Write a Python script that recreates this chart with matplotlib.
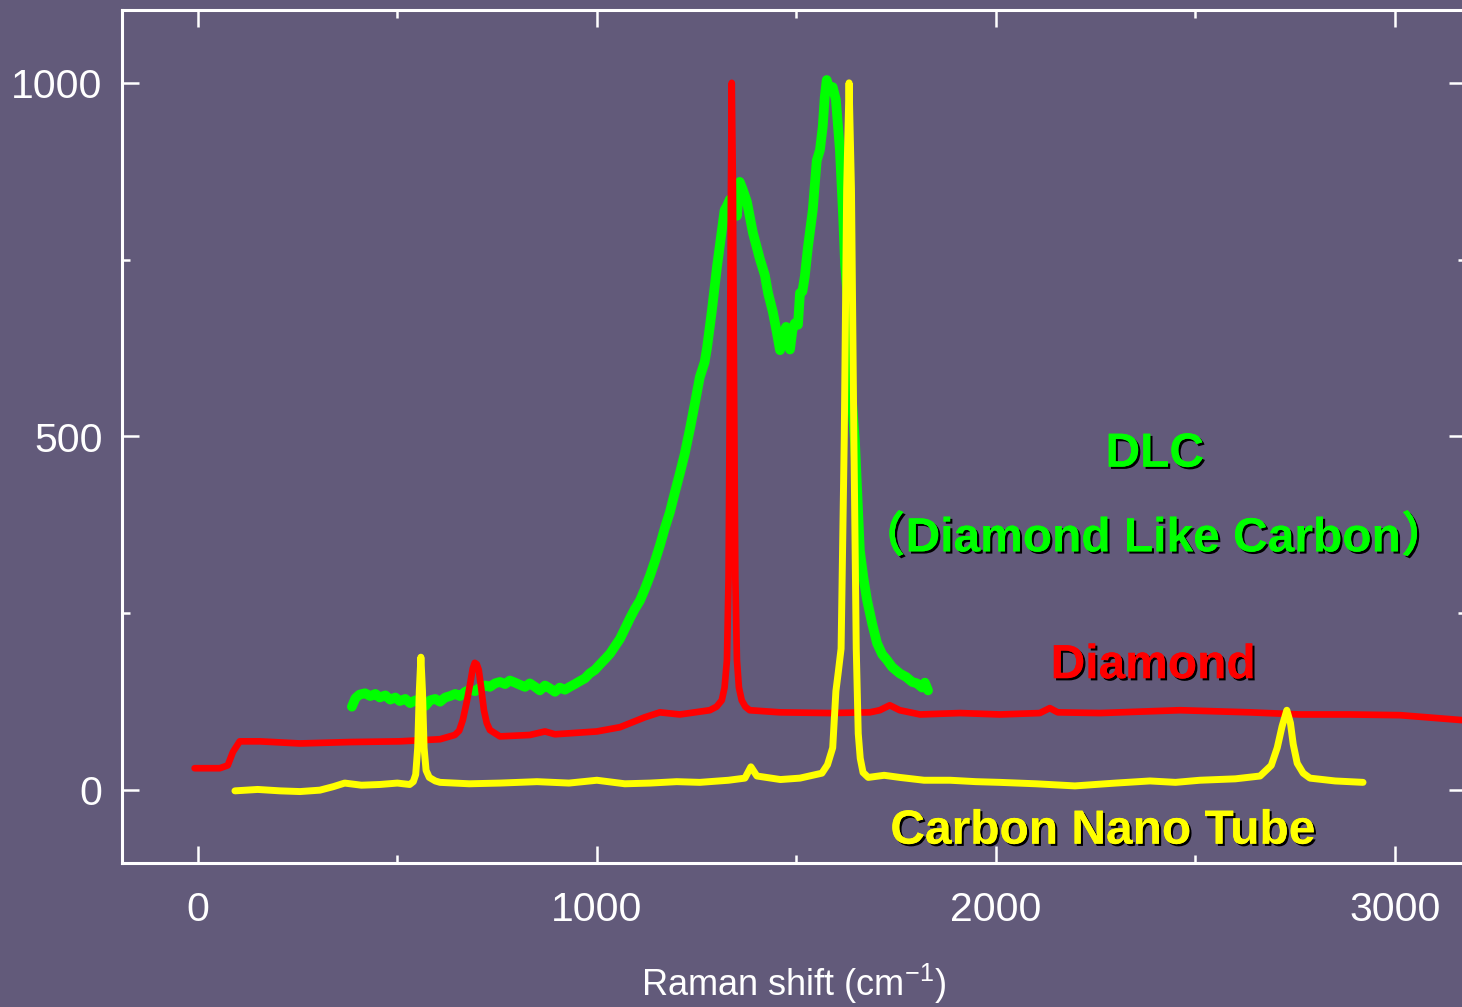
import matplotlib
matplotlib.use("Agg")
import matplotlib.pyplot as plt
import matplotlib.patheffects as pe
from matplotlib.ticker import MultipleLocator

# Raman spectra of three carbon forms (shift in cm-1, intensity in counts)
diamond_x = [-8, 55, 75, 88, 105, 155, 256, 381, 506, 607, 644, 655, 664, 674, 682,
             689, 694, 699, 704, 710, 717, 724, 732, 757, 832, 870, 895, 1000, 1058,
             1120, 1158, 1208, 1283, 1300, 1313, 1320, 1326, 1330, 1333, 1336, 1338,
             1341, 1344, 1347, 1351, 1356, 1363, 1372, 1383, 1459, 1584, 1684, 1709,
             1734, 1759, 1810, 1910, 2010, 2110, 2135, 2155, 2261, 2461, 2637, 2762,
             2887, 3013, 3168]
diamond_y = [31, 31, 35, 54, 69, 69, 66, 68, 69, 72, 78, 84, 99, 125, 149,
             172, 180, 178, 170, 145, 113, 95, 85, 76, 78, 83, 79, 83, 89,
             103, 110, 107, 113, 118, 127, 145, 184, 300, 552, 850, 1000,
             850, 552, 300, 184, 145, 127, 118, 113, 110, 109, 110, 113,
             120, 113, 107, 109, 107, 109, 116, 110, 109, 113, 110, 107,
             107, 106, 99]

cnt_x = [93, 150, 206, 256, 306, 340, 368, 410, 456, 500, 531, 540, 546, 551, 555,
         559, 563, 567, 572, 580, 595, 607, 680, 757, 850, 930, 1000, 1070, 1133,
         1200, 1258, 1330, 1371, 1386, 1401, 1460, 1509, 1564, 1578, 1591, 1599,
         1605, 1612, 1620, 1626, 1632, 1638, 1644, 1650, 1655, 1660, 1667, 1680,
         1720, 1759, 1820, 1885, 1950, 2010, 2100, 2198, 2300, 2386, 2450, 2511,
         2600, 2662, 2690, 2705, 2717, 2729, 2738, 2745, 2755, 2770, 2787, 2850,
         2920]
cnt_y = [-1, 1, -1, -2, 0, 5, 10, 7, 8, 10, 8, 12, 22, 60, 140,
         188, 140, 60, 28, 18, 13, 11, 9, 10, 12, 10, 14, 9, 10,
         12, 11, 14, 17, 33, 20, 15, 17, 24, 36, 60, 140,
         167, 200, 500, 850, 1000, 850, 500, 200, 80, 45, 25, 18,
         21, 18, 14, 14, 12, 11, 9, 6, 10, 13, 11, 14,
         16, 20, 35, 60, 90, 113, 95, 65, 38, 24, 17, 13,
         11]

dlc_x = [386, 395, 405, 419, 432, 445, 456, 470, 482, 495, 506, 520, 532, 545, 556,
         570, 582, 595, 607, 620, 632, 645, 657, 670, 682, 695, 707, 720, 732, 745,
         757, 770, 782, 795, 807, 820, 832, 845, 857, 870, 882, 895, 907, 920, 932,
         945, 957, 970, 982, 995, 1008, 1020, 1033, 1045, 1058, 1070, 1083, 1095,
         1108, 1120, 1133, 1145, 1158, 1170, 1183, 1195, 1208, 1220, 1233, 1245,
         1258, 1270, 1276, 1288, 1301, 1313, 1320, 1326, 1333, 1340, 1346, 1351,
         1358, 1365, 1376, 1391, 1409, 1421, 1429, 1441, 1450, 1459, 1466, 1474,
         1484, 1490, 1496, 1504, 1509, 1515, 1521, 1529, 1541, 1551, 1559, 1566,
         1571, 1576, 1583, 1591, 1599, 1609, 1617, 1622, 1629, 1639, 1647, 1659,
         1668, 1677, 1690, 1702, 1715, 1727, 1740, 1759, 1775, 1790, 1802, 1815,
         1822, 1830]
dlc_y = [118, 130, 135, 137, 133, 136, 131, 134, 128, 131, 126, 129, 123, 127, 126,
         119, 127, 129, 125, 131, 133, 136, 133, 139, 142, 140, 145, 148, 146, 151,
         153, 150, 155, 152, 149, 146, 151, 146, 141, 148, 144, 139, 145, 142, 146,
         150, 154, 158, 165, 170, 178, 185, 193, 203, 214, 228, 243, 256,
         268, 284, 303, 323, 346, 370, 393, 420, 448, 475, 510, 545,
         584, 605, 625, 677, 740, 790, 820, 826, 835, 812, 835, 812,
         860, 850, 832, 788, 750, 728, 703, 676, 650, 622, 640, 655,
         623, 650, 660, 658, 703, 705, 726, 768, 820, 890, 905, 938,
         980, 1004, 990, 994, 976, 905, 813, 743, 693, 552, 491, 339,
         300, 269, 235, 208, 192, 184, 174, 165, 160, 153, 151, 145,
         152, 141]

bg = "#625a7a"
plt.rcParams["font.family"] = ["Liberation Sans", "Noto Sans CJK JP", "DejaVu Sans"]
plt.rcParams["mathtext.fontset"] = "custom"
plt.rcParams["mathtext.rm"] = "Liberation Sans"

fig = plt.figure(figsize=(14.62, 10.07), dpi=100, facecolor=bg)
ax = fig.add_axes([122 / 1462, 144 / 1007, 1344 / 1462, 853 / 1007])
ax.set_facecolor(bg)

ax.plot(dlc_x, dlc_y, color="#00ff00", lw=7.0, solid_joinstyle="round",
        solid_capstyle="round", zorder=2)
ax.plot(diamond_x, diamond_y, color="#ff0000", lw=4.8, solid_joinstyle="round",
        solid_capstyle="round", zorder=3)
ax.plot(cnt_x, cnt_y, color="#ffff00", lw=5.0, solid_joinstyle="round",
        solid_capstyle="round", zorder=4)

ax.set_xlim(-190, 3178)
ax.set_ylim(-103, 1103)

ax.xaxis.set_major_locator(MultipleLocator(1000))
ax.xaxis.set_minor_locator(MultipleLocator(500))
ax.yaxis.set_major_locator(MultipleLocator(500))
ax.yaxis.set_minor_locator(MultipleLocator(250))
ax.tick_params(which="both", direction="in", color="white", width=1.8,
               top=True, right=True, labelcolor="white", labelsize=29.5)
ax.tick_params(which="major", length=12)
ax.tick_params(which="minor", length=6)
ax.tick_params(axis="x", pad=20)
ax.tick_params(axis="y", pad=14)
for s in ax.spines.values():
    s.set_color("white")
    s.set_linewidth(2.2)

ax.set_xlabel("Raman shift (cm$^{\\mathrm{-1}}$)", color="white", fontsize=26,
              labelpad=24)

shadow = [pe.withSimplePatchShadow(offset=(1.6, -1.6), shadow_rgbFace="black",
                                   alpha=1.0), pe.Normal()]
lbl = dict(fontsize=34.5, fontweight="bold", ha="center", va="center",
           path_effects=shadow, zorder=5)
ax.text(2398, 475, "DLC", color="#00ff00", **lbl)
ax.text(2394, 356, "（Diamond Like Carbon）", color="#00ff00", **lbl)
ax.text(2394, 176, "Diamond", color="#ff0000", **lbl)
ax.text(2268, -58, "Carbon Nano Tube", color="#ffff00", **lbl)

fig.savefig("out.png", dpi=100, facecolor=bg)
